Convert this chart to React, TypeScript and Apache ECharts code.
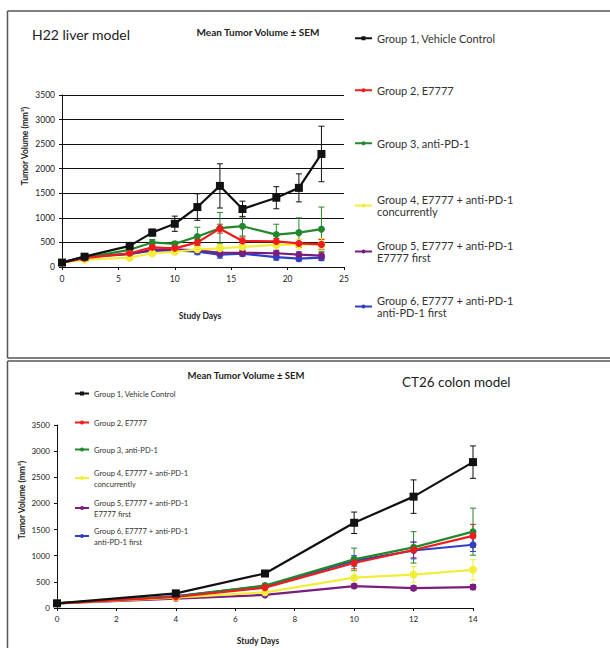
import React, { useEffect, useRef } from "react";
import * as echarts from "echarts";

const GROUPS = [
  "Group 1, Vehicle Control",
  "Group 2, E7777",
  "Group 3, anti-PD-1",
  "Group 4, E7777 + anti-PD-1 concurrently",
  "Group 5, E7777 + anti-PD-1 E7777 first",
  "Group 6, E7777 + anti-PD-1 anti-PD-1 first",
];
const LEGEND_LABELS = [
  "Group 1, Vehicle Control",
  "Group 2, E7777",
  "Group 3, anti-PD-1",
  "Group 4, E7777 + anti-PD-1\nconcurrently",
  "Group 5, E7777 + anti-PD-1\nE7777 first",
  "Group 6, E7777 + anti-PD-1\nanti-PD-1 first",
];
const COLORS = ["#111111", "#ee1c1c", "#23882b", "#f0ee3a", "#7a1e7e", "#2f3fc4"];
const SYMBOLS = ["rect", "circle", "circle", "circle", "circle", "circle"];

// H22 liver model
const H22_DAYS = [0, 2, 6, 8, 10, 12, 14, 16, 19, 21, 23];
const H22_G1 = [90, 210, 430, 700, 880, 1220, 1650, 1180, 1410, 1610, 2300];
const H22_G2 = [90, 180, 280, 400, 380, 500, 780, 530, 520, 480, 460];
const H22_G3 = [90, 190, 350, 500, 470, 620, 790, 830, 660, 700, 770];
const H22_G4 = [90, 150, 190, 280, 310, 360, 380, 410, 450, 460, 460];
const H22_G5 = [90, 200, 260, 350, 360, 340, 290, 290, 280, 250, 230];
const H22_G6 = [90, 210, 270, 330, 340, 310, 250, 270, 200, 170, 190];
const H22_E1 = [15, 20, 30, 70, 155, 270, 450, 160, 225, 285, 565];
const H22_E2 = [10, 20, 25, 40, 40, 60, 90, 80, 60, 80, 100];
const H22_E3 = [10, 20, 30, 60, 50, 190, 320, 200, 210, 300, 450];
const H22_E4 = [10, 20, 25, 40, 40, 60, 80, 60, 60, 100, 120];
const H22_E5 = [10, 20, 30, 40, 40, 50, 50, 50, 60, 60, 60];
const H22_E6 = [10, 20, 30, 40, 40, 60, 70, 50, 60, 50, 60];

// CT26 colon model
const CT26_DAYS = [0, 4, 7, 10, 12, 14];
const CT26_G1 = [90, 280, 660, 1630, 2130, 2790];
const CT26_G2 = [90, 210, 390, 860, 1110, 1380];
const CT26_G3 = [90, 220, 430, 930, 1160, 1460];
const CT26_G4 = [90, 200, 300, 580, 640, 730];
const CT26_G5 = [90, 180, 250, 420, 380, 400];
const CT26_G6 = [90, 230, 420, 900, 1100, 1210];
const CT26_E1 = [10, 20, 40, 205, 320, 310];
const CT26_E2 = [10, 15, 30, 110, 150, 220];
const CT26_E3 = [10, 15, 30, 215, 300, 450];
const CT26_E4 = [10, 15, 25, 125, 150, 195];
const CT26_E5 = [10, 15, 20, 40, 40, 50];
const CT26_E6 = [10, 15, 30, 100, 160, 130];

const H22_VALUES = [H22_G1, H22_G2, H22_G3, H22_G4, H22_G5, H22_G6];
const H22_ERRORS = [H22_E1, H22_E2, H22_E3, H22_E4, H22_E5, H22_E6];
const CT26_VALUES = [CT26_G1, CT26_G2, CT26_G3, CT26_G4, CT26_G5, CT26_G6];
const CT26_ERRORS = [CT26_E1, CT26_E2, CT26_E3, CT26_E4, CT26_E5, CT26_E6];

const FONT = "Lato";

function errRender(color: string) {
  return (params: any, api: any) => {
    const x = api.value(0);
    const lo = api.coord([x, api.value(1)]);
    const hi = api.coord([x, api.value(2)]);
    const w = 3;
    const style = { stroke: color, lineWidth: 1 };
    return {
      type: "group",
      children: [
        { type: "line", shape: { x1: lo[0], y1: lo[1], x2: hi[0], y2: hi[1] }, style },
        { type: "line", shape: { x1: hi[0] - w, y1: hi[1], x2: hi[0] + w, y2: hi[1] }, style },
        { type: "line", shape: { x1: lo[0] - w, y1: lo[1], x2: lo[0] + w, y2: lo[1] }, style },
      ],
    };
  };
}

function buildSeries(days: number[], values: number[][], errors: number[][], axisIndex: number) {
  const out: any[] = [];
  values.forEach((vals, g) => {
    out.push({
      type: "custom",
      xAxisIndex: axisIndex,
      yAxisIndex: axisIndex,
      renderItem: errRender(COLORS[g]),
      data: days.map((d, i) => [d, vals[i] - errors[g][i], vals[i] + errors[g][i]]),
      encode: { x: 0, y: [1, 2] },
      z: g === 0 ? 6 : 3,
      silent: true,
    });
    out.push({
      type: "line",
      name: GROUPS[g],
      xAxisIndex: axisIndex,
      yAxisIndex: axisIndex,
      data: days.map((d, i) => [d, vals[i]]),
      symbol: SYMBOLS[g],
      symbolSize: g === 0 ? 8 : g === 3 ? 8 : 7,
      itemStyle: { color: COLORS[g] },
      lineStyle: { color: COLORS[g], width: 2.2 },
      z: g === 0 ? 7 : 4 + (5 - g) * 0.1,
    });
  });
  return out;
}

const TOP_LEGEND_Y = [32, 84, 137, 193, 239, 294];
const BOTTOM_LEGEND_Y = [388, 417, 444, 467, 497, 525];

export default function App() {
  const ref = useRef<HTMLDivElement>(null);
  useEffect(() => {
    if (!ref.current) return;
    const chart = echarts.init(ref.current, undefined, { renderer: "svg" });
    const legendFormatter = (name: string) => LEGEND_LABELS[GROUPS.indexOf(name)] ?? name;
    const legends: any[] = [];
    GROUPS.forEach((g, i) => {
      legends.push({
        data: [g],
        left: 354,
        top: TOP_LEGEND_Y[i],
        padding: 0,
        itemWidth: 17,
        itemHeight: 5,
        selectedMode: false,
        formatter: legendFormatter,
        textStyle: { fontFamily: FONT, fontSize: 11, color: "#333", lineHeight: 12.5 },
      });
      legends.push({
        data: [g],
        left: 74,
        top: BOTTOM_LEGEND_Y[i],
        padding: 0,
        itemWidth: 14,
        itemHeight: 5,
        selectedMode: false,
        formatter: legendFormatter,
        textStyle: { fontFamily: FONT, fontSize: 7.6, color: "#333", lineHeight: 11 },
      });
    });

    const axisLabel = {
      fontFamily: FONT,
      fontSize: 8.5,
      color: "#222",
      margin: 7,
      formatter: (v: number) => String(v),
    };
    const axisLine = { show: true, lineStyle: { color: "#111", width: 1 } };
    const axisTick = { show: true, length: 3, lineStyle: { color: "#111" } };

    const border = { stroke: "#555", lineWidth: 1.5 };

    chart.setOption({
      animation: false,
      title: [
        {
          text: "Mean Tumor Volume ± SEM",
          left: 258,
          top: 27,
          padding: 0,
          textAlign: "center",
          textStyle: { fontFamily: FONT, fontSize: 10, fontWeight: "bold", color: "#222" },
        },
        {
          text: "Mean Tumor Volume ± SEM",
          left: 246,
          top: 370,
          padding: 0,
          textAlign: "center",
          textStyle: { fontFamily: FONT, fontSize: 9.5, fontWeight: "bold", color: "#222" },
        },
      ],
      legend: legends,
      grid: [
        { left: 62, top: 95, width: 282, height: 172 },
        { left: 57, top: 425, width: 416, height: 183 },
      ],
      xAxis: [
        {
          type: "value",
          gridIndex: 0,
          min: 0,
          max: 25,
          interval: 5,
          splitLine: { show: false },
          axisLine,
          axisTick,
          axisLabel,
        },
        {
          type: "value",
          gridIndex: 1,
          min: 0,
          max: 14,
          interval: 2,
          splitLine: { show: false },
          axisLine,
          axisTick,
          axisLabel: { ...axisLabel, fontSize: 8 },
        },
      ],
      yAxis: [
        {
          type: "value",
          gridIndex: 0,
          min: 0,
          max: 3500,
          interval: 500,
          splitLine: { show: true, lineStyle: { color: "#111", width: 1.2 } },
          axisLine,
          axisTick,
          axisLabel,
        },
        {
          type: "value",
          gridIndex: 1,
          min: 0,
          max: 3500,
          interval: 500,
          splitLine: { show: false },
          axisLine,
          axisTick,
          axisLabel: { ...axisLabel, fontSize: 8 },
        },
      ],
      graphic: [
        { type: "line", shape: { x1: 7.5, y1: 11, x2: 700, y2: 11 }, style: border, silent: true },
        { type: "line", shape: { x1: 7.5, y1: 11, x2: 7.5, y2: 358 }, style: border, silent: true },
        { type: "line", shape: { x1: 7.5, y1: 358, x2: 700, y2: 358 }, style: border, silent: true },
        { type: "line", shape: { x1: 7.5, y1: 361, x2: 700, y2: 361 }, style: border, silent: true },
        { type: "line", shape: { x1: 7.5, y1: 361, x2: 7.5, y2: 648 }, style: border, silent: true },
        {
          type: "text",
          left: 32,
          top: 27,
          style: { text: "H22 liver model", fontFamily: FONT, fontSize: 14, fill: "#222" },
        },
        {
          type: "text",
          left: 402,
          top: 375,
          style: { text: "CT26 colon model", fontFamily: FONT, fontSize: 13.5, fill: "#222" },
        },
        {
          type: "text",
          x: 25,
          y: 146,
          rotation: Math.PI / 2,
          style: {
            text: "Tumor Volume (mm³)",
            fontFamily: FONT,
            fontSize: 8.5,
            fontWeight: "bold",
            fill: "#222",
            align: "center",
            verticalAlign: "middle",
          },
        },
        {
          type: "text",
          x: 22,
          y: 500,
          rotation: Math.PI / 2,
          style: {
            text: "Tumor Volume (mm³)",
            fontFamily: FONT,
            fontSize: 8.5,
            fontWeight: "bold",
            fill: "#222",
            align: "center",
            verticalAlign: "middle",
          },
        },
        {
          type: "text",
          x: 200,
          y: 316,
          style: {
            text: "Study Days",
            fontFamily: FONT,
            fontSize: 8.5,
            fontWeight: "bold",
            fill: "#222",
            align: "center",
            verticalAlign: "middle",
          },
        },
        {
          type: "text",
          x: 258,
          y: 641,
          style: {
            text: "Study Days",
            fontFamily: FONT,
            fontSize: 8.5,
            fontWeight: "bold",
            fill: "#222",
            align: "center",
            verticalAlign: "middle",
          },
        },
      ],
      series: [
        ...buildSeries(H22_DAYS, H22_VALUES, H22_ERRORS, 0),
        ...buildSeries(CT26_DAYS, CT26_VALUES, CT26_ERRORS, 1),
      ],
    });
    return () => chart.dispose();
  }, []);
  return (
    <div
      ref={ref}
      style={{ position: "fixed", left: 0, top: 0, width: 610, height: 648, background: "#fff" }}
    />
  );
}
